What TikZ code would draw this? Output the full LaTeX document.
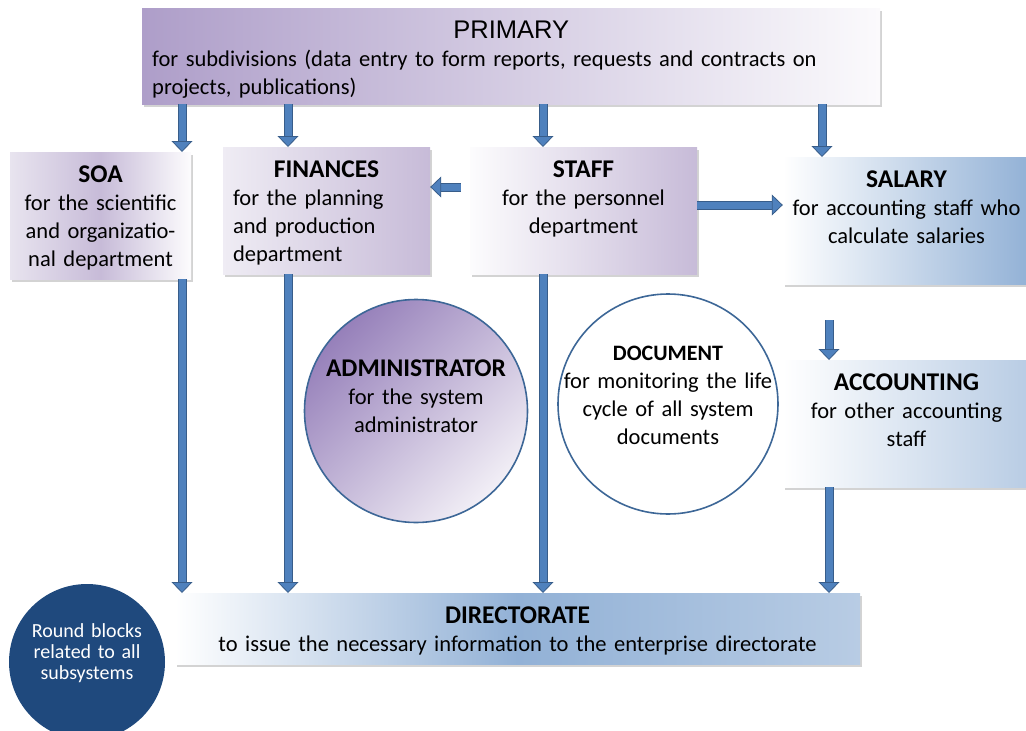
\documentclass[tikz,border=0pt]{standalone}
\usepackage{fontspec}
\setmainfont{Carlito}
\newfontfamily\headfont{Liberation Sans}
\usetikzlibrary{arrows.meta,positioning,shadows}
\definecolor{lilac}{RGB}{174,158,201}
\definecolor{lilacmid}{RGB}{199,187,216}
\definecolor{lilacpale}{RGB}{232,228,239}
\definecolor{steel}{RGB}{146,177,214}
\definecolor{steelpale}{RGB}{184,204,228}
\definecolor{navy}{RGB}{31,73,125}
\definecolor{arrowfill}{RGB}{79,129,189}
\definecolor{arrowedge}{RGB}{56,93,138}
\definecolor{ringblue}{RGB}{61,103,151}
\definecolor{admintop}{RGB}{150,128,186}
\definecolor{adminbot}{RGB}{242,239,246}
\newcommand\ttl[1]{{\fontsize{25.5}{28}\selectfont\bfseries #1}}

\begin{document}
\begin{tikzpicture}[x=1pt,y=-1pt,font=\fontsize{22.5}{28}\selectfont,
  box/.style={anchor=north,align=center,inner xsep=8pt,inner ysep=8pt,text height=22pt,text depth=89pt,
    drop shadow={shadow xshift=2pt,shadow yshift=-3pt,opacity=.35}},
  ring/.style={circle,draw=ringblue,line width=1.6pt,minimum size=220pt,inner sep=0pt,align=center},
  blockarrow/.style={draw=arrowfill,line width=7pt,
    -{Triangle[width=21pt,length=11pt,line width=0.8pt,color=arrowedge,fill=arrowfill]},
    preaction={draw=arrowedge,line width=9pt,-,shorten >=10pt}}]
\useasboundingbox (0,0) rectangle (1026,731);

\node[box,anchor=north west,minimum width=738pt,text width=718pt,inner xsep=10pt,align=left,
  text height=22pt,text depth=58pt,left color=lilac,right color=white!95!lilac] (primary) at (142,8)
  {\makebox[\linewidth]{\headfont\fontsize{25.5}{25.5}\selectfont PRIMARY}\\\raggedright for subdivisions (data entry to form reports, requests and contracts on\\projects, publications)};

\node[box,minimum width=181pt,text width=169pt,inner xsep=6pt,left color=lilacpale,right color=white!97!lilac,middle color=lilacmid] (soa) at (100.5,152)
  {\ttl{SOA}\\for the scientific\\and organizatio-\\nal department};
\node[box,minimum width=207pt,text width=187pt,inner xsep=10pt,align=left,left color=lilacpale!70!white,right color=lilacmid] (fin) at (326.5,147)
  {\makebox[\linewidth]{\ttl{FINANCES}}\\\raggedright for the planning\\and production\\department};
\node[box,minimum width=227pt,text width=211pt,left color=white!97!lilac,right color=lilacmid] (staff) at (583.5,147)
  {\ttl{STAFF}\\for the personnel\\department};
\node[box,minimum width=247pt,text width=239pt,inner xsep=4pt,left color=white,right color=steel] (salary) at (906.5,157)
  {\ttl{SALARY}\\for accounting staff who\\calculate salaries};
\node[box,minimum width=247pt,text width=239pt,inner xsep=4pt,left color=white,right color=steelpale] (acc) at (906.5,360)
  {\ttl{ACCOUNTING}\\for other accounting\\staff};
\node[box,minimum width=685pt,text width=669pt,text depth=33pt,left color=white,right color=steelpale,middle color=steel] (dir) at (517.5,593)
  {\ttl{DIRECTORATE}\\to issue the necessary information to the enterprise directorate};

\node[ring,text width=196pt,top color=admintop,bottom color=adminbot,shading angle=45,text height=19pt,text depth=89pt] (admin) at (416,411)
  {\ttl{ADMINISTRATOR}\\for the system\\administrator};
\node[ring,text width=215pt,fill=white,inner sep=-16pt,text height=17pt,text depth=105pt] (doc) at (668,404)
  {{\fontsize{22}{22}\selectfont\bfseries DOCUMENT}\\for monitoring the life\\cycle of all system\\documents};
\node[circle,fill=navy,minimum size=156pt,inner sep=0pt,align=center,text width=130pt,text=white,
  font=\fontsize{20}{21}\selectfont,text height=13pt,text depth=63pt] (note) at (87,662)
  {Round blocks\\related to all\\subsystems};

\foreach \x/\n in {182/soa,288/fin,543/staff,822/salary}
  \draw[blockarrow] (primary.south -| \x,0) -- (\n.north -| \x,0);
\foreach \x/\n in {182/soa,288/fin,543/staff}
  \draw[blockarrow] (\n.south -| \x,0) -- (dir.north -| \x,0);
\draw[blockarrow,shorten <=36pt] (salary.south -| 829,0) -- (acc.north -| 829,0);
\draw[blockarrow] (acc.south -| 829,0) -- (dir.north -| 829,0);
\draw[blockarrow,shorten <=9pt] (staff.west |- 0,187) -- (fin.east |- 0,187);
\draw[blockarrow] (staff.east |- 0,205) -- (salary.west |- 0,205);
\end{tikzpicture}
\end{document}
